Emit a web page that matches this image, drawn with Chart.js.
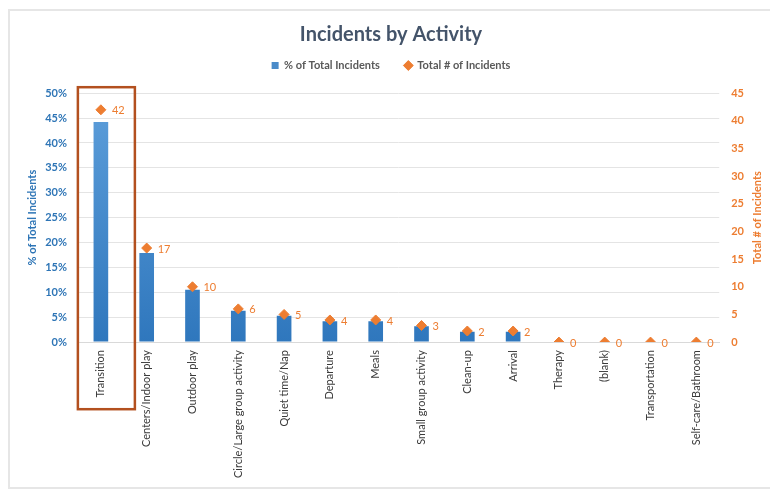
<!DOCTYPE html>
<html>
<head>
<meta charset="utf-8">
<script src="https://cdn.jsdelivr.net/npm/chart.js@4.4.1/dist/chart.umd.min.js"></script>
<style>
  html, body { margin: 0; padding: 0; background: #fff; }
  #wrap { width: 770px; height: 489px; }
</style>
</head>
<body>
<div id="wrap"><canvas id="chart" width="770" height="489"></canvas></div>
<script>
// values
const activities = [
    'Transition', 'Centers/Indoor play', 'Outdoor play', 'Circle/Large group activity',
    'Quiet time/Nap', 'Departure', 'Meals', 'Small group activity', 'Clean-up',
    'Arrival', 'Therapy', '(blank)', 'Transportation', 'Self-care/Bathroom'
];
const pctIncidents = [44.2, 17.9, 10.5, 6.3, 5.3, 4.2, 4.2, 3.2, 2.1, 2.1, 0, 0, 0, 0];
const totalIncidents = [42, 17, 10, 6, 5, 4, 4, 3, 2, 2, 0, 0, 0, 0];
const pctTicks = [0, 5, 10, 15, 20, 25, 30, 35, 40, 45, 50];
const countTicks = [0, 5, 10, 15, 20, 25, 30, 35, 40, 45];

const BLUE = '#2e75b6';
const ORANGE = '#ed7d31';
const FONT = 'Lato, "Open Sans", sans-serif';

// frame, red highlight box, point labels and right axis title
const extrasPlugin = {
    id: 'extras',
    beforeDraw(chart) {
        const ctx = chart.ctx;
        ctx.save();
        ctx.strokeStyle = '#e6e6e6';
        ctx.lineWidth = 2;
        ctx.strokeRect(9, 10, 770, 478);
        ctx.restore();
    },
    afterDraw(chart) {
        const ctx = chart.ctx;
        const x = chart.scales.x;
        const yR = chart.scales.yR;

        // labels beside the diamonds
        const meta = chart.getDatasetMeta(0);
        ctx.save();
        ctx.font = '11px ' + FONT;
        ctx.fillStyle = ORANGE;
        ctx.textBaseline = 'middle';
        meta.data.forEach((pt, i) => {
            ctx.fillText(String(totalIncidents[i]), pt.x + 11, pt.y + 1);
        });
        ctx.restore();

        // highlight box round the first category
        const cx = x.getPixelForValue(0);
        ctx.save();
        ctx.strokeStyle = '#b3501f';
        ctx.lineWidth = 2.5;
        ctx.strokeRect(cx - 23, chart.chartArea.top - 6, 57, 322);
        ctx.restore();

        // right axis title reading bottom to top
        ctx.save();
        ctx.translate(757, (yR.top + yR.bottom) / 2);
        ctx.rotate(-Math.PI / 2);
        ctx.font = 'bold 11px ' + FONT;
        ctx.fillStyle = ORANGE;
        ctx.textAlign = 'center';
        ctx.textBaseline = 'middle';
        ctx.fillText('Total # of Incidents', 0, 0);
        ctx.restore();
    }
};

function barGradient(context) {
    const area = context.chart.chartArea;
    if (!area) return '#4a8bc9';
    const g = context.chart.ctx.createLinearGradient(0, area.top, 0, area.bottom);
    g.addColorStop(0, '#5e9fdb');
    g.addColorStop(1, '#2f77bd');
    return g;
}

const ctx = document.getElementById('chart').getContext('2d');
const chart = new Chart(ctx, {
    data: {
        labels: activities,
        datasets: [
            {
                type: 'line',
                label: 'Total # of Incidents',
                data: totalIncidents,
                yAxisID: 'yR',
                showLine: false,
                pointStyle: 'rectRot',
                pointRadius: 5,
                pointBackgroundColor: ORANGE,
                pointBorderColor: ORANGE,
                backgroundColor: ORANGE,
                borderColor: ORANGE
            },
            {
                type: 'bar',
                label: '% of Total Incidents',
                data: pctIncidents,
                yAxisID: 'y',
                backgroundColor: barGradient,
                pointStyle: 'rect',
                barPercentage: 0.64,
                categoryPercentage: 0.5
            }
        ]
    },
    plugins: [extrasPlugin],
    options: {
        responsive: false,
        animation: false,
        layout: { padding: { top: 10, left: 26, right: 14, bottom: 3 } },
        plugins: {
            title: {
                display: true,
                text: 'Incidents by Activity',
                color: '#44546a',
                font: { family: FONT, size: 20, weight: 'bold' },
                padding: { top: 13, bottom: -12 }
            },
            // empty spacer between the legend and the plot
            subtitle: {
                display: true,
                text: ' ',
                weight: 500,
                font: { size: 1 },
                padding: { top: 0, bottom: 11 }
            },
            legend: {
                reverse: true,
                labels: {
                    usePointStyle: true,
                    boxWidth: 7,
                    boxHeight: 7,
                    padding: 25,
                    color: '#595959',
                    font: { family: FONT, size: 11, weight: 'bold' },
                    generateLabels(chart) {
                        const items = Chart.defaults.plugins.legend.labels.generateLabels(chart);
                        items.forEach(it => {
                            if (it.datasetIndex === 1) {
                                it.fillStyle = '#4a8bc9';
                                it.strokeStyle = '#4a8bc9';
                                it.pointStyle = 'rect';
                            } else {
                                it.fillStyle = ORANGE;
                                it.strokeStyle = ORANGE;
                                it.pointStyle = 'rectRot';
                            }
                        });
                        return items;
                    }
                }
            },
            tooltip: { enabled: false }
        },
        scales: {
            x: {
                grid: { display: false, drawTicks: false },
                border: { color: '#d9d9d9' },
                ticks: {
                    minRotation: 90,
                    maxRotation: 90,
                    padding: 8,
                    color: '#3a3a3a',
                    font: { family: FONT, size: 11 }
                }
            },
            y: {
                position: 'left',
                min: 0,
                max: 50,
                afterBuildTicks(axis) { axis.ticks = pctTicks.map(v => ({ value: v })); },
                grid: { color: '#e4e4e4', drawTicks: false },
                border: { display: false },
                ticks: {
                    padding: 11,
                    color: BLUE,
                    font: { family: FONT, size: 11, weight: 'bold' },
                    callback: v => v + '%'
                },
                title: {
                    display: true,
                    text: '% of Total Incidents',
                    color: BLUE,
                    font: { family: FONT, size: 11, weight: 'bold' },
                    padding: { top: 0, bottom: -5 }
                }
            },
            yR: {
                position: 'right',
                min: 0,
                max: 45,
                afterBuildTicks(axis) { axis.ticks = countTicks.map(v => ({ value: v })); },
                grid: { display: false, drawTicks: false },
                border: { display: false },
                ticks: {
                    padding: 12,
                    color: ORANGE,
                    font: { family: FONT, size: 11, weight: 'bold' }
                }
            }
        }
    }
});
</script>
</body>
</html>
